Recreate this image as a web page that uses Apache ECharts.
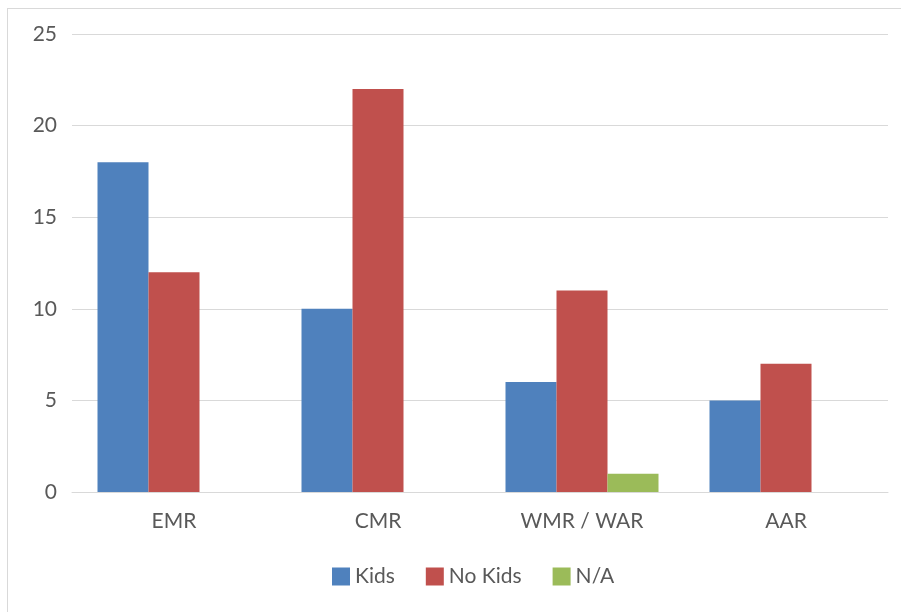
<!DOCTYPE html>
<html>
<head>
<meta charset="utf-8">
<script src="https://cdn.jsdelivr.net/npm/echarts@6/dist/echarts.min.js"></script>
<style>
  html, body { margin: 0; padding: 0; background: #fff; }
  #frame { position: absolute; left: 7px; top: 8px; width: 910px; height: 620px; border: 1px solid #d9d9d9; box-sizing: border-box; }
  #chart { position: absolute; left: 0; top: 0; width: 901px; height: 612px; }
</style>
</head>
<body>
<div id="frame"></div>
<div id="chart"></div>
<script>
// Survey responses per region, split by household type
const categories = ['EMR', 'CMR', 'WMR / WAR', 'AAR'];
const kids = [18, 10, 6, 5];
const noKids = [12, 22, 11, 7];
const notAnswered = [0, 0, 1, 0];
const yTicks = [0, 5, 10, 15, 20, 25];

const font = 'Lato, "Open Sans", sans-serif';
const textColor = '#595959';

const chart = echarts.init(document.getElementById('chart'), null, { renderer: 'canvas' });
chart.setOption({
  animation: false,
  backgroundColor: 'transparent',
  color: ['#4f81bd', '#c0504d', '#9bbb59'],
  grid: { left: 72, right: 13, top: 34, bottom: 120, containLabel: false },
  legend: {
    top: 566,
    left: 332,
    padding: 0,
    itemWidth: 18,
    itemHeight: 18,
    itemGap: 31,
    icon: 'rect',
    textStyle: { fontFamily: font, fontSize: 21, color: textColor },
    data: ['Kids', 'No Kids', 'N/A']
  },
  xAxis: {
    type: 'category',
    data: categories,
    axisLine: { show: true, lineStyle: { color: '#d9d9d9', width: 1 } },
    axisTick: { show: false },
    axisLabel: { fontFamily: font, fontSize: 21, color: textColor, margin: 19 }
  },
  yAxis: {
    type: 'value',
    min: yTicks[0],
    max: yTicks[yTicks.length - 1],
    interval: 5,
    axisLine: { show: false },
    axisTick: { show: false },
    axisLabel: { fontFamily: font, fontSize: 21, color: textColor, margin: 15 },
    splitLine: { lineStyle: { color: '#d9d9d9', width: 1 } }
  },
  series: [
    { name: 'Kids', type: 'bar', data: kids, barGap: '0%', barCategoryGap: '25%' },
    { name: 'No Kids', type: 'bar', data: noKids, barGap: '0%', barCategoryGap: '25%' },
    { name: 'N/A', type: 'bar', data: notAnswered, barGap: '0%', barCategoryGap: '25%' }
  ]
});
</script>
</body>
</html>
